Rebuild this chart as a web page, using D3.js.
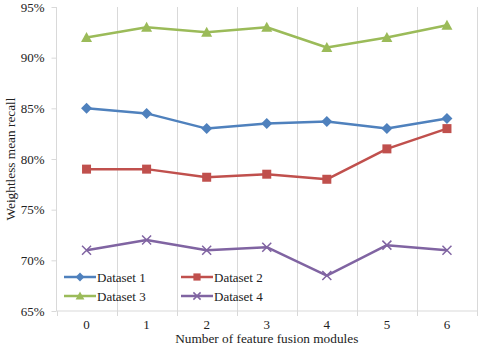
<!DOCTYPE html>
<html><head><meta charset="utf-8">
<script src="https://cdn.jsdelivr.net/npm/d3@7"></script>
<style>body{margin:0;background:#fff}svg{display:block}</style>
</head><body><svg id="c" width="480" height="346"></svg>
<script>
const categories = [0,1,2,3,4,5,6];
const seriesNames = ["Dataset 1","Dataset 2","Dataset 3","Dataset 4"];
const dataset1 = [85.0, 84.5, 83.0, 83.5, 83.7, 83.0, 84.0];
const dataset2 = [79.0, 79.0, 78.2, 78.5, 78.0, 81.0, 83.0];
const dataset3 = [92.0, 93.0, 92.5, 93.0, 91.0, 92.0, 93.2];
const dataset4 = [71.0, 72.0, 71.0, 71.3, 68.5, 71.5, 71.0];
const yTicks = [65,70,75,80,85,90,95];
const colors = ["#4F81BD","#C0504D","#9BBB59","#8064A2"];
const markers = ["diamond","square","triangle","x"];
const values = [dataset1,dataset2,dataset3,dataset4];
const FONT = "Liberation Serif";

const svg = d3.select("#c");
const L=56.5, R=477, T=7, B=311;
const x = d3.scaleBand().domain(categories).range([L,R]);
const y = d3.scaleLinear().domain([65,95]).range([B,T]);
const grid = "#d9d9d9";

// vertical gridlines at band boundaries
const bounds = categories.map(c=>x(c)).concat([R]);
svg.append("g").selectAll("line").data(bounds.slice(1)).join("line")
  .attr("x1",d=>Math.round(d)+0.5).attr("x2",d=>Math.round(d)+0.5)
  .attr("y1",T).attr("y2",B).attr("stroke",grid).attr("stroke-width",1);

// y axis
const ya = svg.append("g").attr("transform",`translate(${L},0)`)
  .call(d3.axisLeft(y).tickValues(yTicks).tickSize(5).tickPadding(7).tickFormat(d=>d+"%"));
ya.select(".domain").attr("stroke",grid).attr("d",`M0,${T}V${B}`);
ya.selectAll(".tick line").attr("stroke",grid);
ya.selectAll("text").style("font-size","13px").style("font-family",FONT).attr("fill","#222");

// x axis
const xa = svg.append("g").attr("transform",`translate(0,${B})`)
  .call(d3.axisBottom(x).tickSize(0).tickPadding(9));
xa.select(".domain").attr("stroke",grid).attr("d",`M${L},0H${R}`);
xa.selectAll("text").style("font-size","13px").style("font-family",FONT).attr("fill","#222");
xa.selectAll("line.bt").data(bounds).join("line").attr("class","bt")
  .attr("x1",d=>Math.round(d)+0.5).attr("x2",d=>Math.round(d)+0.5)
  .attr("y1",0).attr("y2",5).attr("stroke",grid);

// titles
svg.append("text").attr("x",(L+R)/2).attr("y",343).attr("text-anchor","middle")
  .style("font-family",FONT).style("font-size","13.3px").attr("fill","#222").text("Number of feature fusion modules");
svg.append("text").attr("transform",`translate(15,${(T+B)/2}) rotate(-90)`).attr("text-anchor","middle")
  .style("font-family",FONT).style("font-size","13.3px").attr("fill","#222").text("Weightless mean recall");

function marker(g, type, color, cx, cy, s){
  s = s || 1;
  if(type==="diamond"){
    const r=5.5*s;
    g.append("path").attr("d",`M${cx},${cy-r}L${cx+r},${cy}L${cx},${cy+r}L${cx-r},${cy}Z`).attr("fill",color);
  } else if(type==="square"){
    const r=4.5*s;
    g.append("rect").attr("x",cx-r).attr("y",cy-r).attr("width",2*r).attr("height",2*r).attr("fill",color);
  } else if(type==="triangle"){
    const r=5.5*s;
    g.append("path").attr("d",`M${cx},${cy-r}L${cx+r},${cy+r*0.82}L${cx-r},${cy+r*0.82}Z`).attr("fill",color);
  } else {
    const r=4.5*s;
    g.append("path").attr("d",`M${cx-r},${cy-r}L${cx+r},${cy+r}M${cx-r},${cy+r}L${cx+r},${cy-r}`)
      .attr("stroke",color).attr("stroke-width",1.5).attr("fill","none");
  }
}

const line = d3.line().x((d,i)=>x(categories[i])+x.bandwidth()/2).y(d=>y(d));
values.forEach((vals,k)=>{
  const g = svg.append("g");
  g.append("path").attr("d",line(vals)).attr("fill","none").attr("stroke",colors[k])
    .attr("stroke-width",2.5).attr("stroke-linejoin","round");
  vals.forEach((v,i)=>marker(g,markers[k],colors[k],x(categories[i])+x.bandwidth()/2,y(v)));
});

// legend
const lg = svg.append("g");
const pos = [[64,277],[181,277],[64,296],[181,296]];
seriesNames.forEach((n,k)=>{
  const [lx,ly]=pos[k];
  lg.append("line").attr("x1",lx).attr("x2",lx+32).attr("y1",ly).attr("y2",ly)
    .attr("stroke",colors[k]).attr("stroke-width",2.5);
  marker(lg,markers[k],colors[k],lx+16,ly,0.8);
  lg.append("text").attr("x",lx+33).attr("y",ly+4.5).style("font-family",FONT)
    .style("font-size","13px").attr("fill","#222").text(n);
});
</script></body></html>
